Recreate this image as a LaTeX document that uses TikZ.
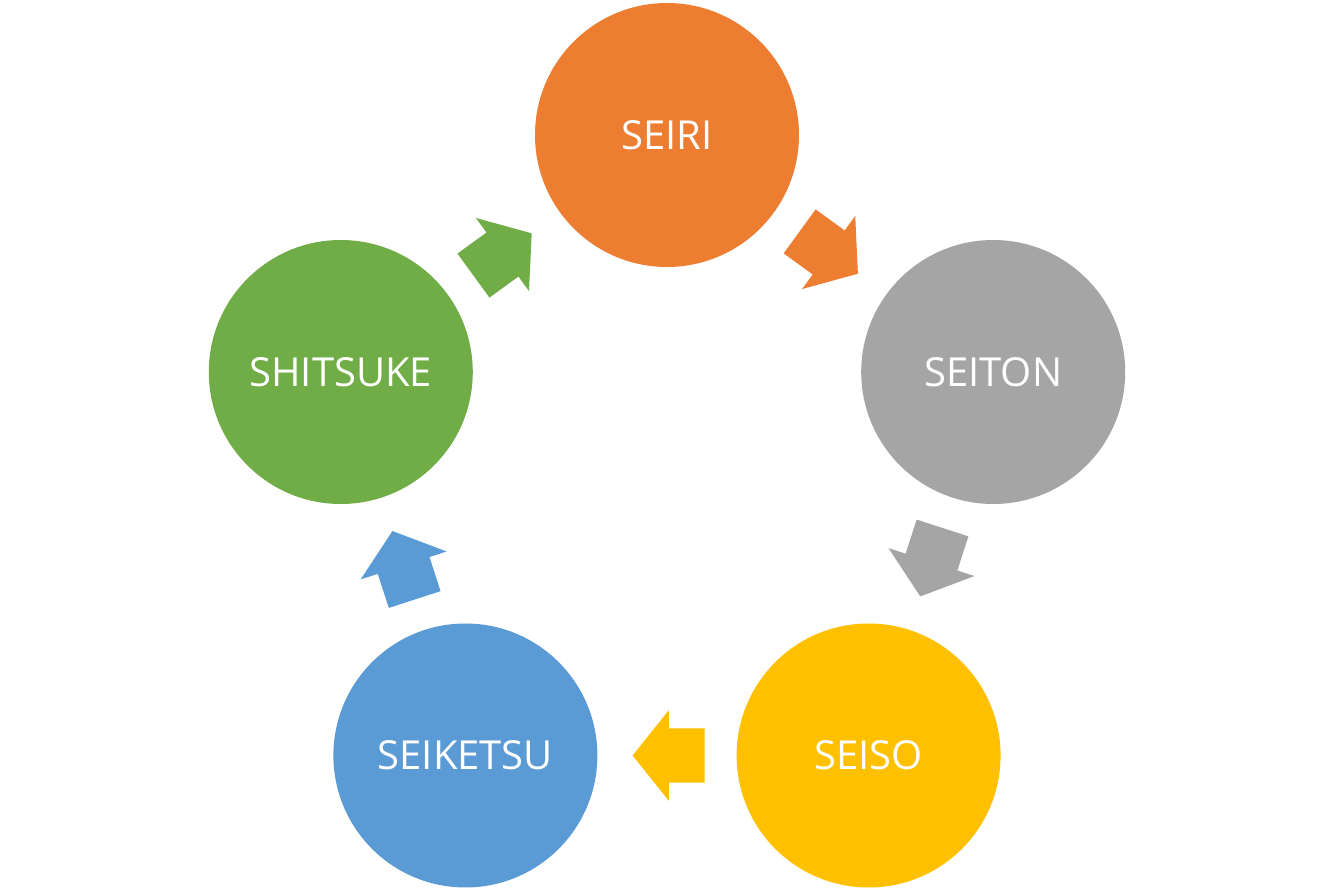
\documentclass[tikz,border=0pt]{standalone}
\usepackage{fontspec}
\setmainfont{Open Sans}
\usetikzlibrary{shapes.arrows}
\definecolor{seiricol}{HTML}{ED7D31}
\definecolor{seitoncol}{HTML}{A5A5A5}
\definecolor{seisocol}{HTML}{FFC000}
\definecolor{seiketsucol}{HTML}{5B9BD5}
\definecolor{shitsukecol}{HTML}{70AD47}
\begin{document}
\begin{tikzpicture}
[x=1pt,y=1pt,%
  step5/.style={shape=circle,minimum size=264pt,inner sep=0pt,text=white,
    font=\fontsize{40}{48}\selectfont},
  blockarrow/.style={shape=single arrow,inner xsep=0pt,inner ysep=27pt,
    minimum height=72pt,minimum width=90pt,single arrow head extend=18pt,
    single arrow tip angle=102.7,rotate=#1,xshift=-12.5pt}]
\useasboundingbox (-667,-414) rectangle (667,478);
% the five steps
\node[step5,fill=seiricol] (seiri) at (90:343) {SEIRI};
\node[step5,fill=seitoncol] (seiton) at (18:343) {SEITON};
\node[step5,fill=seisocol] (seiso) at (-54:343) {SEISO};
\node[step5,fill=seiketsucol] (seiketsu) at (-126:343) {SEIKETSU};
\node[step5,fill=shitsukecol] (shitsuke) at (162:343) {SHITSUKE};
% arrows between them
\node[blockarrow=-36,fill=seiricol] (a1) at (54:277.5) {};
\node[blockarrow=-108,fill=seitoncol] (a2) at (-18:277.5) {};
\node[blockarrow=180,fill=seisocol] (a3) at (-90:277.5) {};
\node[blockarrow=108,fill=seiketsucol] (a4) at (-162:277.5) {};
\node[blockarrow=36,fill=shitsukecol] (a5) at (126:277.5) {};
\end{tikzpicture}
\end{document}
